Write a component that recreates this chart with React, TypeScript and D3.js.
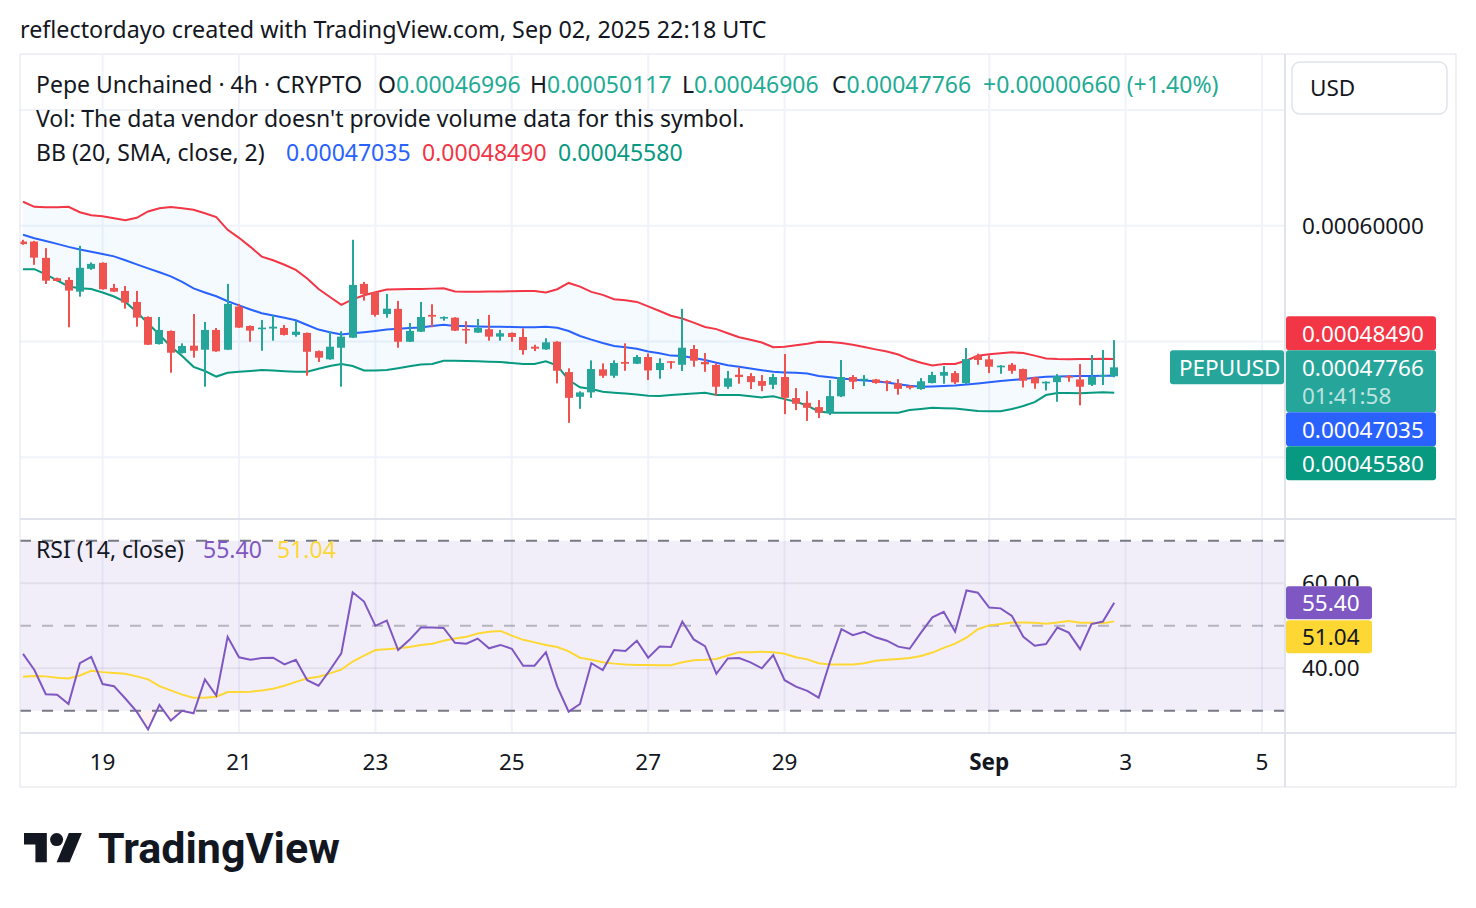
import React from 'react';
import * as d3 from 'd3';

// ---------- DATA (PEPUUSD, 4h candles, first bar = 2025-08-17 20:00 UTC) ----------
const START_UTC = Date.UTC(2025, 7, 17, 20);
const BAR_MS = 4 * 3600 * 1000;

const OPEN = [
  5864e-7, 5864e-7, 5723e-7, 5547e-7, 5532e-7, 5431e-7, 5628e-7, 5680e-7, 5463e-7, 5437e-7,
  5342e-7, 5212e-7, 4978e-7, 5091e-7, 4900e-7, 4964e-7, 4929e-7, 5100e-7, 4929e-7, 5302e-7,
  5134e-7, 5106e-7, 5112e-7, 5117e-7, 5057e-7, 5074e-7, 4917e-7, 4846e-7, 4946e-7, 5033e-7,
  5498e-7, 5426e-7, 5238e-7, 5282e-7, 4998e-7, 5085e-7, 5230e-7, 5198e-7, 5206e-7, 5108e-7,
  5077e-7, 5106e-7, 5042e-7, 5074e-7, 5039e-7, 4955e-7, 4932e-7, 4998e-7, 4736e-7, 4522e-7,
  4560e-7, 4759e-7, 4704e-7, 4823e-7, 4808e-7, 4866e-7, 4753e-7, 4829e-7, 4799e-7, 4935e-7,
  4823e-7, 4797e-7, 4609e-7, 4713e-7, 4701e-7, 4658e-7, 4626e-7, 4693e-7, 4511e-7, 4470e-7,
  4433e-7, 4384e-7, 4526e-7, 4693e-7, 4664e-7, 4672e-7, 4658e-7, 4638e-7, 4617e-7, 4589e-7,
  4641e-7, 4704e-7, 4727e-7, 4641e-7, 4877e-7, 4846e-7, 4777e-7, 4799e-7, 4762e-7, 4690e-7,
  4638e-7, 4649e-7, 4701e-7, 4672e-7, 4626e-7, 4704e-7, 0.00046996,
];
const HIGH = [
  5879e-7, 5870e-7, 5807e-7, 5552e-7, 5556e-7, 5827e-7, 5683e-7, 5684e-7, 5498e-7, 5480e-7,
  5437e-7, 5217e-7, 5212e-7, 5096e-7, 4984e-7, 5238e-7, 5169e-7, 5117e-7, 5498e-7, 5325e-7,
  5139e-7, 5186e-7, 5226e-7, 5143e-7, 5180e-7, 5078e-7, 4922e-7, 5089e-7, 5089e-7, 5879e-7,
  5515e-7, 5428e-7, 5411e-7, 5351e-7, 5160e-7, 5342e-7, 5322e-7, 5217e-7, 5210e-7, 5175e-7,
  5195e-7, 5230e-7, 5100e-7, 5078e-7, 5114e-7, 4972e-7, 5028e-7, 5003e-7, 4768e-7, 4569e-7,
  4837e-7, 4811e-7, 4837e-7, 4984e-7, 4883e-7, 4897e-7, 4855e-7, 4831e-7, 5282e-7, 4970e-7,
  4900e-7, 4811e-7, 4745e-7, 4777e-7, 4727e-7, 4710e-7, 4721e-7, 4892e-7, 4597e-7, 4571e-7,
  4494e-7, 4667e-7, 4840e-7, 4710e-7, 4710e-7, 4677e-7, 4664e-7, 4675e-7, 4621e-7, 4684e-7,
  4738e-7, 4788e-7, 4745e-7, 4944e-7, 4895e-7, 4881e-7, 4795e-7, 4814e-7, 4766e-7, 4694e-7,
  4656e-7, 4718e-7, 4710e-7, 4805e-7, 4883e-7, 4926e-7, 0.00050117,
];
const LOW = [
  5836e-7, 5663e-7, 5497e-7, 5519e-7, 5123e-7, 5388e-7, 5619e-7, 5448e-7, 5428e-7, 5284e-7,
  5128e-7, 4970e-7, 4974e-7, 4730e-7, 4896e-7, 4860e-7, 4609e-7, 4911e-7, 4926e-7, 5117e-7,
  4998e-7, 4920e-7, 5007e-7, 5052e-7, 5042e-7, 4704e-7, 4823e-7, 4842e-7, 4609e-7, 5030e-7,
  5353e-7, 5215e-7, 5206e-7, 4946e-7, 4996e-7, 5082e-7, 5123e-7, 5180e-7, 5091e-7, 4981e-7,
  5074e-7, 5007e-7, 5007e-7, 4998e-7, 4886e-7, 4917e-7, 4928e-7, 4638e-7, 4297e-7, 4418e-7,
  4513e-7, 4686e-7, 4686e-7, 4747e-7, 4805e-7, 4667e-7, 4678e-7, 4764e-7, 4745e-7, 4782e-7,
  4738e-7, 4531e-7, 4591e-7, 4635e-7, 4589e-7, 4571e-7, 4589e-7, 4372e-7, 4407e-7, 4314e-7,
  4338e-7, 4364e-7, 4520e-7, 4589e-7, 4615e-7, 4635e-7, 4571e-7, 4540e-7, 4586e-7, 4583e-7,
  4638e-7, 4635e-7, 4632e-7, 4632e-7, 4799e-7, 4727e-7, 4721e-7, 4721e-7, 4603e-7, 4591e-7,
  4577e-7, 4479e-7, 4652e-7, 4448e-7, 4615e-7, 4624e-7, 0.00046906,
];
const CLOSE = [
  5842e-7, 5725e-7, 5526e-7, 5523e-7, 5440e-7, 5637e-7, 5671e-7, 5452e-7, 5431e-7, 5336e-7,
  5206e-7, 4972e-7, 5100e-7, 4903e-7, 4961e-7, 4920e-7, 5100e-7, 4915e-7, 5325e-7, 5120e-7,
  5094e-7, 5120e-7, 5128e-7, 5057e-7, 5085e-7, 4911e-7, 4860e-7, 4955e-7, 5042e-7, 5489e-7,
  5411e-7, 5230e-7, 5284e-7, 4998e-7, 5091e-7, 5212e-7, 5215e-7, 5212e-7, 5094e-7, 5097e-7,
  5117e-7, 5042e-7, 5071e-7, 5039e-7, 4926e-7, 4938e-7, 4993e-7, 4747e-7, 4513e-7, 4560e-7,
  4762e-7, 4704e-7, 4814e-7, 4808e-7, 4866e-7, 4750e-7, 4814e-7, 4817e-7, 4946e-7, 4834e-7,
  4803e-7, 4609e-7, 4682e-7, 4693e-7, 4649e-7, 4617e-7, 4693e-7, 4513e-7, 4462e-7, 4427e-7,
  4384e-7, 4528e-7, 4693e-7, 4652e-7, 4678e-7, 4641e-7, 4647e-7, 4591e-7, 4600e-7, 4656e-7,
  4710e-7, 4736e-7, 4647e-7, 4848e-7, 4840e-7, 4782e-7, 4791e-7, 4747e-7, 4661e-7, 4638e-7,
  4652e-7, 4701e-7, 4690e-7, 4609e-7, 4693e-7, 4710.6e-7, 0.00047766,
];

const BB_UPPER = [
  6208e-7, 6164e-7, 6160e-7, 6160e-7, 6164e-7, 6117e-7, 6091e-7, 6083e-7, 6065e-7, 6048e-7,
  6069e-7, 6124e-7, 6151e-7, 6162e-7, 6151e-7, 6139e-7, 6109e-7, 6076e-7, 5965e-7, 5896e-7,
  5818e-7, 5734e-7, 5702e-7, 5663e-7, 5619e-7, 5545e-7, 5454e-7, 5385e-7, 5316e-7, 5364e-7,
  5400e-7, 5426e-7, 5450e-7, 5452e-7, 5453e-7, 5454e-7, 5457e-7, 5460e-7, 5433e-7, 5431e-7,
  5431e-7, 5433e-7, 5433e-7, 5435e-7, 5436e-7, 5436e-7, 5423e-7, 5452e-7, 5506e-7, 5474e-7,
  5429e-7, 5403e-7, 5365e-7, 5357e-7, 5342e-7, 5303e-7, 5264e-7, 5223e-7, 5199e-7, 5163e-7,
  5126e-7, 5107e-7, 5071e-7, 5037e-7, 5015e-7, 4991e-7, 4950e-7, 4954e-7, 4967e-7, 4980e-7,
  4998e-7, 4996e-7, 4987e-7, 4972e-7, 4952e-7, 4932e-7, 4913e-7, 4887e-7, 4846e-7, 4816e-7,
  4792e-7, 4805e-7, 4805e-7, 4836e-7, 4876e-7, 4890e-7, 4898e-7, 4906e-7, 4900e-7, 4878e-7,
  4853e-7, 4848e-7, 4847e-7, 4848e-7, 4849e-7, 4851e-7, 0.0004849,
];
const BB_BASIS = [
  5922e-7, 5893e-7, 5868e-7, 5844e-7, 5818e-7, 5795e-7, 5775e-7, 5757e-7, 5736e-7, 5702e-7,
  5667e-7, 5632e-7, 5599e-7, 5563e-7, 5515e-7, 5459e-7, 5424e-7, 5391e-7, 5348e-7, 5312e-7,
  5277e-7, 5244e-7, 5225e-7, 5205e-7, 5184e-7, 5143e-7, 5103e-7, 5080e-7, 5061e-7, 5071e-7,
  5080e-7, 5091e-7, 5103e-7, 5110e-7, 5117e-7, 5122e-7, 5134e-7, 5145e-7, 5135e-7, 5133e-7,
  5130e-7, 5128e-7, 5128e-7, 5126e-7, 5124e-7, 5124e-7, 5127e-7, 5119e-7, 5091e-7, 5048e-7,
  5016e-7, 4987e-7, 4961e-7, 4951e-7, 4938e-7, 4913e-7, 4898e-7, 4878e-7, 4874e-7, 4857e-7,
  4840e-7, 4817e-7, 4795e-7, 4781e-7, 4767e-7, 4752e-7, 4738e-7, 4733e-7, 4729e-7, 4723e-7,
  4701e-7, 4690e-7, 4681e-7, 4672e-7, 4663e-7, 4656e-7, 4646e-7, 4631e-7, 4617e-7, 4609e-7,
  4612e-7, 4615e-7, 4619e-7, 4629e-7, 4638e-7, 4648e-7, 4658e-7, 4667e-7, 4676e-7, 4686e-7,
  4695e-7, 4697e-7, 4699e-7, 4701e-7, 4702e-7, 4703e-7, 0.00047035,
];
const BB_LOWER = [
  5625e-7, 5625e-7, 5580e-7, 5528e-7, 5476e-7, 5460e-7, 5454e-7, 5424e-7, 5389e-7, 5342e-7,
  5256e-7, 5156e-7, 5058e-7, 4957e-7, 4874e-7, 4781e-7, 4745e-7, 4697e-7, 4729e-7, 4738e-7,
  4745e-7, 4753e-7, 4749e-7, 4743e-7, 4738e-7, 4738e-7, 4764e-7, 4788e-7, 4805e-7, 4788e-7,
  4749e-7, 4750e-7, 4753e-7, 4769e-7, 4786e-7, 4801e-7, 4805e-7, 4833e-7, 4833e-7, 4832e-7,
  4829e-7, 4826e-7, 4822e-7, 4814e-7, 4805e-7, 4805e-7, 4829e-7, 4792e-7, 4667e-7, 4604e-7,
  4589e-7, 4566e-7, 4558e-7, 4550e-7, 4542e-7, 4532e-7, 4530e-7, 4537e-7, 4545e-7, 4551e-7,
  4556e-7, 4537e-7, 4537e-7, 4537e-7, 4526e-7, 4517e-7, 4527e-7, 4502e-7, 4479e-7, 4446e-7,
  4395e-7, 4384e-7, 4384e-7, 4384e-7, 4384e-7, 4384e-7, 4384e-7, 4385e-7, 4407e-7, 4417e-7,
  4427e-7, 4424e-7, 4421e-7, 4410e-7, 4400e-7, 4398e-7, 4398e-7, 4416e-7, 4442e-7, 4476e-7,
  4537e-7, 4555e-7, 4554e-7, 4552e-7, 4557e-7, 4561e-7, 0.0004558,
];

const RSI = [
  43.4, 39.6, 33.9, 33.8, 31.6, 41.2, 42.7, 36.3, 35.8, 32.9,
  29.8, 25.6, 31.4, 27.7, 30.0, 29.4, 37.4, 33.6, 47.4, 42.6,
  42.0, 42.4, 42.5, 40.9, 42.0, 37.2, 35.9, 39.6, 43.5, 57.9,
  55.7, 50.0, 51.2, 44.3, 46.7, 49.6, 49.6, 49.5, 46.0, 45.8,
  47.0, 44.7, 45.5, 44.6, 40.6, 40.6, 43.8, 35.7, 29.8, 31.6,
  41.2, 39.6, 44.3, 44.1, 46.5, 42.5, 45.1, 45.0, 51.0, 46.8,
  45.2, 38.7, 42.3, 42.4, 41.4, 40.0, 43.1, 37.2, 35.7, 34.7,
  33.1, 41.6, 49.2, 47.8, 48.6, 47.3, 46.5, 45.1, 44.6, 48.4,
  52.0, 53.3, 48.6, 58.3, 57.8, 54.3, 54.1, 52.3, 47.4, 45.3,
  45.7, 49.6, 48.4, 44.5, 50.4, 51.0, 55.40,
];
const RSI_MA = [
  38.0, 38.2, 38.1, 37.8, 37.6, 38.3, 39.4, 39.1, 38.9, 38.7,
  38.1, 37.4, 35.8, 34.8, 33.8, 33.1, 33.1, 33.3, 34.4, 34.4,
  34.5, 34.8, 35.2, 35.9, 36.8, 37.6, 38.0, 38.8, 39.7, 41.6,
  43.0, 44.3, 44.5, 44.7, 45.0, 45.5, 45.8, 46.5, 47.0, 47.4,
  48.2, 48.6, 48.8, 47.7, 46.7, 46.1, 45.5, 45.0, 44.0, 42.5,
  42.0, 41.4, 41.1, 40.9, 40.8, 40.8, 40.7, 40.7, 41.4, 41.9,
  42.0, 42.2, 43.0, 43.8, 43.8, 43.9, 43.8, 43.4, 42.6, 42.1,
  41.2, 40.9, 40.9, 40.9, 41.2, 41.8, 42.0, 42.2, 42.4, 42.9,
  43.7, 44.8, 45.8, 47.2, 49.2, 50.1, 50.4, 50.8, 50.8, 50.7,
  50.5, 50.8, 51.1, 50.7, 50.7, 50.6, 51.04,
];

const TICK_DATES = ['2025-08-19', '2025-08-21', '2025-08-23', '2025-08-25', '2025-08-27', '2025-08-29', '2025-09-01', '2025-09-03', '2025-09-05'];
const TICK_LABELS = ['19', '21', '23', '25', '27', '29', 'Sep', '3', '5'];
const PRICE_GRID = [0.0004, 0.0005, 0.0006, 0.0007];
const PRICE_LABELS = [0.0006];
const RSI_GRID = [60, 40];
const RSI_LABELS = [60, 40];
const RSI_BANDS = [70, 50, 30];

// ---------- LAYOUT ----------
const W = 1476;
const H = 908;
const L = 20;
const PR = 1285; // price axis left edge
const FR = 1456; // frame right
const MAIN_T = 55;
const MAIN_B = 518;
const RSI_T = 520;
const RSI_B = 732;
const AX_B = 787;
const FONT = '"Noto Sans", "Open Sans", Roboto, sans-serif';
const FS = 23; // legend / title text
const FA = 22.5; // axis text
const TXT = '#131722';
const UP = '#26A69A';
const DOWN = '#EF5350';
const GRID = '#F0F3FA';
const BORDER = '#E0E3EB';

const barTime = (i: number) => new Date(START_UTC + i * BAR_MS);
const fmt8 = d3.format('.8f');
const fmt2 = d3.format('.2f');

export default function App() {
  const x = d3.scaleUtc()
    .domain([new Date(Date.UTC(2025, 7, 21)), new Date(Date.UTC(2025, 8, 5))])
    .range([239, 1262]);
  const y = d3.scaleLinear().domain([0.0004, 0.0007]).range([457.2, 110.1]);
  const yr = d3.scaleLinear().domain([30, 70]).range([710.8, 540.8]);

  const idx = d3.range(CLOSE.length);
  const xi = (i: number) => x(barTime(i));

  const bbArea = d3.area<number>().x(xi).y0((i) => y(BB_UPPER[i])).y1((i) => y(BB_LOWER[i]))(idx) || '';
  const mkLine = (arr: number[], sc: (v: number) => number) =>
    d3.line<number>().x(xi).y((i) => sc(arr[i]))(idx) || '';
  const rsiLowArea = d3.area<number>().x(xi).y0(yr(30)).y1((i) => yr(RSI[i]))(idx) || '';

  const n = CLOSE.length - 1;
  const lastClose = CLOSE[n];
  const prevClose = CLOSE[n - 1];
  const chg = lastClose - prevClose;
  const chgPct = (chg / prevClose) * 100;
  const green = '#22AB94';

  // price axis last-value labels (stacked)
  const yc = y(lastClose);
  const closeTop = yc - 17;
  const boxes = [
    { top: closeTop - 34, h: 34, fill: '#F23645', text: fmt8(BB_UPPER[n]) },
    { top: closeTop, h: 62, fill: UP, text: fmt8(lastClose), sub: '01:41:58' },
    { top: closeTop + 62, h: 34, fill: '#2962FF', text: fmt8(BB_BASIS[n]) },
    { top: closeTop + 96, h: 34, fill: '#089981', text: fmt8(BB_LOWER[n]) },
  ];
  const rsiTop = yr(RSI[n]) - 16.5;
  const rsiBoxes = [
    { top: rsiTop, h: 33, fill: '#7E57C2', color: '#FFFFFF', text: fmt2(RSI[n]) },
    { top: rsiTop + 34, h: 33, fill: '#FDD835', color: TXT, text: fmt2(RSI_MA[n]) },
  ];

  return (
    <svg
      width={W}
      height={H}
      viewBox={`0 0 ${W} ${H}`}
      style={{ position: 'absolute', left: 0, top: 0, background: '#FFFFFF' }}
      fontFamily={FONT}
    >
      <defs>
        <clipPath id="mainClip">
          <rect x={L} y={MAIN_T} width={PR - L - 1} height={MAIN_B - MAIN_T} />
        </clipPath>
        <clipPath id="rsiClip">
          <rect x={L} y={RSI_T} width={PR - L - 1} height={RSI_B - RSI_T} />
        </clipPath>
        <clipPath id="rsiLowClip">
          <rect x={L} y={yr(30)} width={PR - L - 1} height={RSI_B - yr(30)} />
        </clipPath>
        <clipPath id="sixtyClip">
          <rect x={PR + 1} y={RSI_T} width={FR - PR - 2} height={rsiTop - RSI_T} />
        </clipPath>
      </defs>
      <rect x={0} y={0} width={W} height={H} fill="#FFFFFF" />

      {/* title */}
      <text x={20} y={38} fontSize={23.3} fill={TXT}>
        reflectordayo created with TradingView.com, Sep 02, 2025 22:18 UTC
      </text>

      {/* grids */}
      {PRICE_GRID.map((p) => (
        <line key={'pg' + p} x1={L} x2={PR} y1={y(p)} y2={y(p)} stroke={GRID} strokeWidth={2} />
      ))}
      {TICK_DATES.map((d) => {
        const xx = x(new Date(d + 'T00:00:00Z'));
        return (
          <g key={'vg' + d}>
            <line x1={xx} x2={xx} y1={MAIN_T} y2={MAIN_B} stroke={GRID} strokeWidth={2} />
            <line x1={xx} x2={xx} y1={RSI_T} y2={RSI_B} stroke={GRID} strokeWidth={2} />
          </g>
        );
      })}

      {/* main pane */}
      <g clipPath="url(#mainClip)">
        <path d={bbArea} fill="rgba(33,150,243,0.05)" />
        <path d={mkLine(BB_UPPER, y)} fill="none" stroke="#F23645" strokeWidth={2} />
        <path d={mkLine(BB_LOWER, y)} fill="none" stroke="#089981" strokeWidth={2} />
        <path d={mkLine(BB_BASIS, y)} fill="none" stroke="#2962FF" strokeWidth={2} />
        {idx.map((i) => {
          const o = OPEN[i], c = CLOSE[i], h = HIGH[i], l = LOW[i];
          const cx = Math.round(xi(i));
          const col = c >= o ? UP : DOWN;
          const yt = y(Math.max(o, c));
          const yb = y(Math.min(o, c));
          return (
            <g key={'c' + i}>
              <rect x={cx - 1} y={y(h)} width={2} height={y(l) - y(h)} fill={col} />
              <rect x={cx - 4} y={yt} width={8} height={Math.max(1.5, yb - yt)} fill={col} />
            </g>
          );
        })}
      </g>

      {/* legend */}
      <text y={93} fontSize={FS} fill={TXT}>
        <tspan x={36}>Pepe Unchained · 4h · CRYPTO</tspan>
        <tspan x={378}>O</tspan><tspan fill={green}>{fmt8(OPEN[n])}</tspan>
        <tspan x={530}>H</tspan><tspan fill={green}>{fmt8(HIGH[n])}</tspan>
        <tspan x={682}>L</tspan><tspan fill={green}>{fmt8(LOW[n])}</tspan>
        <tspan x={832}>C</tspan><tspan fill={green}>{fmt8(lastClose)}</tspan>
        <tspan x={983} fill={green}>{(chg >= 0 ? '+' : '') + fmt8(chg) + ' (' + (chgPct >= 0 ? '+' : '') + fmt2(chgPct) + '%)'}</tspan>
      </text>
      <text x={36} y={127} fontSize={FS} fill={TXT}>
        Vol: The data vendor doesn't provide volume data for this symbol.
      </text>
      <text y={161} fontSize={FS} fill={TXT}>
        <tspan x={36}>BB (20, SMA, close, 2)</tspan>
        <tspan x={286} fill="#2962FF">{fmt8(BB_BASIS[n])}</tspan>
        <tspan x={422} fill="#F23645">{fmt8(BB_UPPER[n])}</tspan>
        <tspan x={558} fill="#089981">{fmt8(BB_LOWER[n])}</tspan>
      </text>

      {/* RSI pane */}
      <rect x={L} y={yr(70)} width={PR - L} height={yr(30) - yr(70)} fill="rgba(126,87,194,0.1)" />
      {RSI_GRID.map((v) => (
        <line key={'rg' + v} x1={L} x2={PR} y1={yr(v)} y2={yr(v)} stroke="rgba(120,123,134,0.12)" strokeWidth={2} />
      ))}
      {RSI_BANDS.map((v) => (
        <line
          key={'rb' + v}
          x1={L}
          x2={PR}
          y1={yr(v)}
          y2={yr(v)}
          stroke="#787B86"
          strokeOpacity={v === 50 ? 0.5 : 1}
          strokeWidth={2}
          strokeDasharray="11,11"
        />
      ))}
      <g clipPath="url(#rsiClip)">
        <g clipPath="url(#rsiLowClip)">
          <path d={rsiLowArea} fill="rgba(242,54,69,0.08)" />
        </g>
        <path d={mkLine(RSI_MA, yr)} fill="none" stroke="#FDD835" strokeWidth={2} />
        <path d={mkLine(RSI, yr)} fill="none" stroke="#7E57C2" strokeWidth={2} />
      </g>
      <text y={558} fontSize={FS} fill={TXT}>
        <tspan x={36}>RSI (14, close)</tspan>
        <tspan x={203} fill="#7E57C2">{fmt2(RSI[n])}</tspan>
        <tspan x={277} fill="#FDD835">{fmt2(RSI_MA[n])}</tspan>
      </text>

      {/* frame & separators */}
      <line x1={L} x2={FR} y1={54} y2={54} stroke={BORDER} strokeWidth={1} />
      <line x1={L} x2={FR} y1={AX_B} y2={AX_B} stroke={BORDER} strokeWidth={1} />
      <line x1={L} x2={L} y1={54} y2={AX_B} stroke={BORDER} strokeWidth={1} />
      <line x1={FR} x2={FR} y1={54} y2={AX_B} stroke={BORDER} strokeWidth={1} />
      <line x1={L} x2={FR} y1={519} y2={519} stroke={BORDER} strokeWidth={2} />
      <line x1={L} x2={FR} y1={733} y2={733} stroke={BORDER} strokeWidth={2} />
      <line x1={PR} x2={PR} y1={54} y2={AX_B} stroke={BORDER} strokeWidth={2} />

      {/* time axis */}
      {TICK_DATES.map((d, k) => (
        <text
          key={'tl' + d}
          x={x(new Date(d + 'T00:00:00Z'))}
          y={770}
          fontSize={FA}
          fill={TXT}
          textAnchor="middle"
          fontWeight={TICK_LABELS[k] === 'Sep' ? 700 : 400}
        >
          {TICK_LABELS[k]}
        </text>
      ))}

      {/* price axis */}
      <rect x={1292} y={62} width={155} height={52} rx={8} fill="#FFFFFF" stroke={BORDER} strokeWidth={1.5} />
      <text x={1310} y={96} fontSize={FA} fill={TXT}>USD</text>
      {PRICE_LABELS.map((p) => (
        <text key={'pl' + p} x={1302} y={y(p) + 8} fontSize={FA} fill={TXT}>
          {fmt8(p)}
        </text>
      ))}
      <rect x={1170} y={closeTop} width={114} height={34} rx={3} fill={UP} />
      <text x={1179} y={closeTop + 26} fontSize={FA} fill="#FFFFFF">PEPUUSD</text>
      {boxes.map((b, k) => (
        <g key={'bx' + k}>
          <rect x={1286} y={b.top} width={150} height={b.h} rx={3} fill={b.fill} />
          <text x={1302} y={b.top + 26} fontSize={FA} fill="#FFFFFF">{b.text}</text>
          {b.sub ? (
            <text x={1302} y={b.top + 54} fontSize={FA} fill="rgba(255,255,255,0.7)">{b.sub}</text>
          ) : null}
        </g>
      ))}
      {RSI_LABELS.map((v) => (
        <text
          key={'rl' + v}
          x={1302}
          y={yr(v) + 8}
          fontSize={FA}
          fill={TXT}
          clipPath={v === 60 ? 'url(#sixtyClip)' : undefined}
        >
          {fmt2(v)}
        </text>
      ))}
      {rsiBoxes.map((b, k) => (
        <g key={'rbx' + k}>
          <rect x={1286} y={b.top} width={86} height={b.h} rx={3} fill={b.fill} />
          <text x={1302} y={b.top + 25} fontSize={FA} fill={b.color}>{b.text}</text>
        </g>
      ))}

      {/* TradingView logo */}
      <g transform="translate(24,826.5) scale(1.63)" fill="#131722">
        <path d="M14 22H7V11H0V4h14v18zM28 22h-8l7.5-18h8L28 22z" />
        <circle cx={20} cy={8} r={4} />
      </g>
      <text x={98} y={863} fontSize={43} fontWeight={700} fill="#131722" fontFamily="Roboto, sans-serif">TradingView</text>
    </svg>
  );
}
